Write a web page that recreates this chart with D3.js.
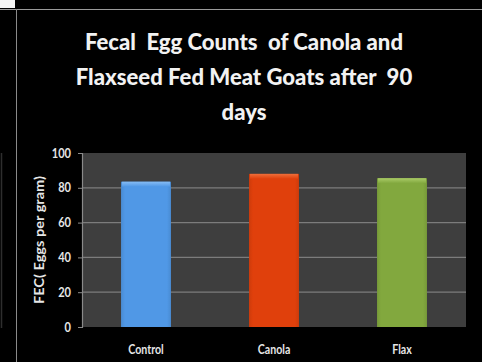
<!DOCTYPE html>
<html><head><meta charset="utf-8">
<script src="https://cdn.jsdelivr.net/npm/d3@7"></script>
<style>html,body{margin:0;padding:0;background:#000;}svg{display:block;}</style>
</head><body>
<script>
const categories = ["Control", "Canola", "Flax"];
const values = [83.5, 88, 85.5];
const colors = ["#5098e6", "#e0400c", "#82a83e"];
const highlights = ["#86bcf4", "#ee6e3a", "#aacb68"];
const yTicks = [0, 20, 40, 60, 80, 100];
const titleLines = ["Fecal  Egg Counts  of Canola and", "Flaxseed Fed Meat Goats after  90", "days"];
const yTitle = "FEC( Eggs per gram)";

const W = 482, H = 362;
const FONT = "Lato, 'Open Sans', sans-serif";
const svg = d3.select("body").append("svg").attr("width", W).attr("height", H);
svg.append("rect").attr("width", W).attr("height", H).attr("fill", "#000");

// condense helper: squeeze text horizontally
function condense(sel, f) {
  sel.each(function () {
    const len = this.getComputedTextLength();
    d3.select(this).attr("textLength", len * f).attr("lengthAdjust", "spacingAndGlyphs");
  });
}

// slide frame remnants
svg.append("rect").attr("x", 0).attr("y", 0).attr("width", 15).attr("height", 8).attr("fill", "#f4f4f4");
svg.append("line").attr("x1", 0).attr("x2", W).attr("y1", 9.5).attr("y2", 9.5).attr("stroke", "#9a9a9a").attr("stroke-width", 1.2);
svg.append("line").attr("x1", 16.5).attr("x2", 16.5).attr("y1", 9).attr("y2", H).attr("stroke", "#8a8a8a").attr("stroke-width", 1);
svg.append("line").attr("x1", 1.5).attr("x2", 1.5).attr("y1", 153).attr("y2", 328).attr("stroke", "#2e2e2e").attr("stroke-width", 1.5);

const pLeft = 82, pRight = 466, pTop = 153, pBottom = 327;
const x = d3.scaleBand().domain(categories).range([pLeft, pRight]).paddingInner(0.61).paddingOuter(0.305);
const y = d3.scaleLinear().domain([0, 100]).range([pBottom, pTop]);

// plot background
svg.append("rect").attr("x", pLeft).attr("y", pTop).attr("width", pRight - pLeft).attr("height", pBottom - pTop).attr("fill", "#3e3e3e");

// gridlines
svg.append("g").selectAll("line").data(yTicks.filter(d => d > 0 && d < 100)).join("line")
  .attr("x1", pLeft).attr("x2", pRight).attr("y1", d => y(d)).attr("y2", d => y(d))
  .attr("stroke", "#7c7c7c").attr("stroke-width", 1.2);

// y axis
const yAxis = svg.append("g").attr("transform", `translate(${pLeft},0)`)
  .call(d3.axisLeft(y).tickValues(yTicks).tickSize(4).tickPadding(7));
yAxis.select(".domain").attr("stroke", "#8a8a8a").attr("stroke-width", 1.2);
yAxis.selectAll(".tick line").attr("stroke", "#8a8a8a");
yAxis.selectAll(".tick text").attr("fill", "#e6e6e6").attr("font-family", FONT)
  .attr("font-weight", "bold").attr("font-size", 13).call(condense, 0.85);

// bars
const defs = svg.append("defs");
categories.forEach((c, i) => {
  const g = defs.append("linearGradient").attr("id", "g" + i).attr("x1", 0).attr("x2", 1).attr("y1", 0).attr("y2", 0);
  g.append("stop").attr("offset", 0).attr("stop-color", d3.color(colors[i]).darker(0.25));
  g.append("stop").attr("offset", 0.08).attr("stop-color", colors[i]);
  g.append("stop").attr("offset", 0.92).attr("stop-color", colors[i]);
  g.append("stop").attr("offset", 1).attr("stop-color", d3.color(colors[i]).darker(0.25));
  const h = defs.append("linearGradient").attr("id", "h" + i).attr("x1", 0).attr("x2", 0).attr("y1", 0).attr("y2", 1);
  h.append("stop").attr("offset", 0).attr("stop-color", highlights[i]);
  h.append("stop").attr("offset", 1).attr("stop-color", colors[i]);
});
const bars = svg.append("g").selectAll("g").data(categories).join("g");
bars.append("rect")
  .attr("x", d => x(d)).attr("width", x.bandwidth())
  .attr("y", (d, i) => y(values[i])).attr("height", (d, i) => y(0) - y(values[i]))
  .attr("fill", (d, i) => `url(#g${i})`);
bars.append("rect")
  .attr("x", d => x(d) + 1).attr("width", x.bandwidth() - 2)
  .attr("y", (d, i) => y(values[i])).attr("height", 5)
  .attr("fill", (d, i) => `url(#h${i})`);

// x labels
svg.append("g").selectAll("text").data(categories).join("text")
  .attr("x", d => x(d) + x.bandwidth() / 2).attr("y", 354)
  .attr("text-anchor", "middle").attr("fill", "#e6e6e6")
  .attr("font-family", FONT).attr("font-weight", "bold").attr("font-size", 12.5)
  .text(d => d).call(condense, 0.85);

// y title
svg.append("text").attr("transform", "translate(44,240) rotate(-90)")
  .attr("text-anchor", "middle").attr("fill", "#e6e6e6")
  .attr("font-family", FONT).attr("font-weight", "bold").attr("font-size", 13)
  .text(yTitle).call(condense, 1.12);

// title
svg.append("g").selectAll("text").data(titleLines).join("text")
  .attr("x", 244).attr("y", (d, i) => 50 + i * 35)
  .attr("text-anchor", "middle").attr("fill", "#f2f2f2")
  .attr("font-family", FONT).attr("font-weight", 900).attr("font-size", 23)
  .attr("xml:space", "preserve").style("white-space", "pre")
  .text(d => d).call(condense, 0.96);
</script>
</body></html>
